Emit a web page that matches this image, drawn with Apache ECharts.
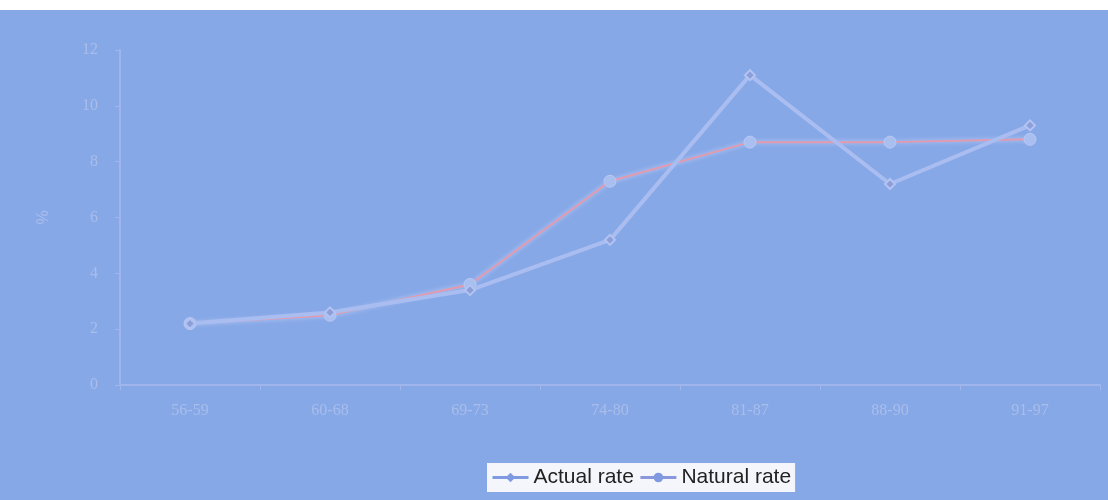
<!DOCTYPE html>
<html><head><meta charset="utf-8">
<script src="https://cdn.jsdelivr.net/npm/echarts@6/dist/echarts.min.js"></script>
<style>
html,body{margin:0;padding:0;background:#fff;}
#wrap{position:absolute;left:0;top:10px;width:1108px;height:490px;background:#87a8e7;}
#c{width:1108px;height:490px;}
</style></head>
<body><div id="wrap"><div id="c"></div></div>
<script>
const categories = ["56-59","60-68","69-73","74-80","81-87","88-90","91-97"];
const actualRate = [2.2, 2.6, 3.4, 5.2, 11.1, 7.2, 9.3];
const naturalRate = [2.2, 2.5, 3.6, 7.3, 8.7, 8.7, 8.8];
const yTicks = [0, 2, 4, 6, 8, 10, 12];

const faint = '#a9bdeb';
const chart = echarts.init(document.getElementById('c'), null, {renderer:'canvas'});
chart.setOption({
  animation:false,
  backgroundColor:'transparent',
  grid:{left:120, right:8, top:40, bottom:115},
  legend:{
    bottom:8, left:487, padding:[4,4,4,4],
    backgroundColor:'#f4f6fb',
    itemWidth:36, itemHeight:12, itemGap:5,
    textStyle:{color:'#222', fontSize:21, fontFamily:'Liberation Sans, Arial'},
    data:[
      {name:'Actual rate', itemStyle:{color:'#7f9ae0', borderWidth:0}, lineStyle:{color:'#7f9ae0', width:3}},
      {name:'Natural rate', itemStyle:{color:'#7f9ae0', borderWidth:0}, lineStyle:{color:'#8a97dc', width:3}}
    ]
  },
  xAxis:{
    type:'category', data:categories, boundaryGap:true,
    axisLine:{lineStyle:{color:'#9fb5ec', width:2}},
    axisTick:{show:true, length:5, lineStyle:{color:'#9fb5ec'}},
    axisLabel:{color:faint, fontSize:16, margin:18, fontFamily:'Liberation Serif'}
  },
  yAxis:{
    type:'value', min:yTicks[0], max:yTicks[yTicks.length-1], interval:2,
    name:'%', nameLocation:'middle', nameGap:68, nameRotate:90,
    nameTextStyle:{color:faint, fontSize:16},
    axisLine:{show:true, lineStyle:{color:'#9fb5ec', width:2}},
    axisTick:{show:true, length:5, lineStyle:{color:'#9fb5ec'}},
    splitLine:{show:false},
    axisLabel:{color:faint, fontSize:16, margin:22, fontFamily:'Liberation Serif'}
  },
  series:[
    {name:'Actual rate', type:'line', data:actualRate,
     symbol:'diamond', symbolSize:10,
     itemStyle:{color:'#8d9fd9', borderColor:'#b3c3f2', borderWidth:2},
     lineStyle:{color:'#aabdf1', width:4}, z:3},
    {name:'Natural rate', type:'line', data:naturalRate,
     symbol:'circle', symbolSize:12,
     itemStyle:{color:'#a9bff0', borderColor:'#b8c8f3', borderWidth:1},
     lineStyle:{color:'#e49aae', width:2, shadowColor:'rgba(200,215,250,0.9)', shadowBlur:4}, z:2}
  ]
});
</script></body></html>
